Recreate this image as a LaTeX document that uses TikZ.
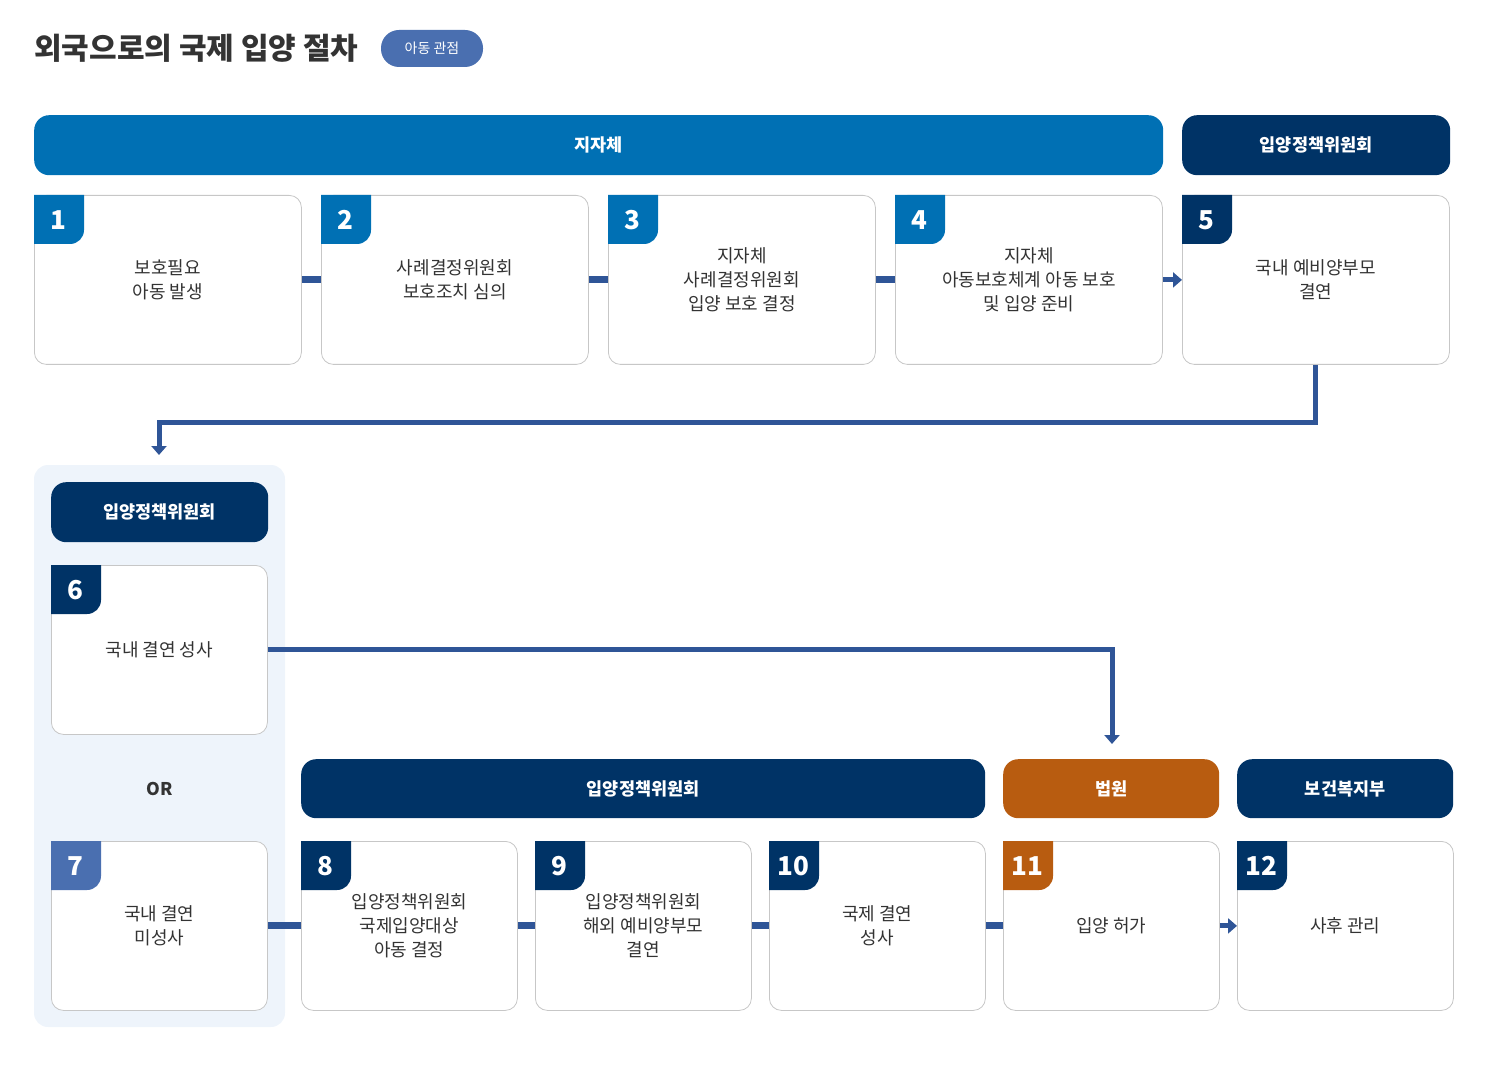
\documentclass[tikz,border=0pt]{standalone}
\usepackage{fontspec}
\setmainfont{Noto Sans CJK KR}
\usetikzlibrary{arrows.meta}
\definecolor{cblue}{HTML}{0070B4}
\definecolor{navy}{HTML}{003366}
\definecolor{mid}{HTML}{4A6FB0}
\definecolor{orng}{HTML}{B85C10}
\definecolor{conn}{HTML}{2F5597}
\definecolor{panel}{HTML}{EEF4FB}
\definecolor{txt}{HTML}{333333}
\tikzset{
 bar/.style={rounded corners=15pt,anchor=north west,text=white,font=\bfseries\fontsize{17.5}{20}\selectfont,inner sep=0},
 box/.style={draw=black!22,line width=0.8pt,fill=white,rounded corners=12pt,anchor=north west,text=txt,align=center,font=\fontsize{18}{24}\selectfont,inner sep=0},
 num/.style={text=white,font=\bfseries\fontsize{26}{28}\selectfont,inner sep=0},
 cn/.style={draw=conn,line width=7pt},
 ar/.style={draw=conn,line width=5pt,-{Triangle[length=9pt,width=15pt]}},
}
\newcommand{\tabx}[5]{% name x y color num
 \fill[#4] (#2,#3-49) -- (#2,#3) -- (#2+50,#3) -- (#2+50,#3-35) arc(0:-90:14) -- cycle;
 \node[num] (#1) at (#2+24,#3-25) {#5};}
\begin{document}
\begin{tikzpicture}[x=1pt,y=1pt]
\useasboundingbox (0,0) rectangle (1500,-1067);
\node[anchor=west,text=txt,font=\bfseries\fontsize{30}{32}\selectfont,inner sep=0] (title) at (34,-48) {외국으로의 국제 입양 절차};
\node[fill=mid,rounded corners=18pt,minimum width=102pt,minimum height=37pt,text=white,font=\fontsize{14}{16}\selectfont,inner sep=0] (pill) at (432,-48.5) {아동 관점};
% top bars
\node[bar,fill=cblue,minimum width=1129pt,minimum height=60pt] (h1) at (34,-115) {지자체};
\node[bar,fill=navy,minimum width=268pt,minimum height=60pt] (h2) at (1182,-115) {입양정책위원회};
% row1
\node[box,minimum width=267pt,minimum height=169pt] (b1) at (34,-195) {보호필요\\아동 발생};
\node[box,minimum width=267pt,minimum height=169pt] (b2) at (321,-195) {사례결정위원회\\보호조치 심의};
\node[box,minimum width=267pt,minimum height=169pt] (b3) at (608,-195) {지자체\\사례결정위원회\\입양 보호 결정};
\node[box,minimum width=267pt,minimum height=169pt] (b4) at (895,-195) {지자체\\아동보호체계 아동 보호\\및 입양 준비};
\node[box,minimum width=267pt,minimum height=169pt] (b5) at (1182,-195) {국내 예비양부모\\결연};
\tabx{n1}{34}{-195}{cblue}{1}
\tabx{n2}{321}{-195}{cblue}{2}
\tabx{n3}{608}{-195}{cblue}{3}
\tabx{n4}{895}{-195}{cblue}{4}
\tabx{n5}{1182}{-195}{navy}{5}
\draw[cn] (b1.east) -- (b2.west);
\draw[cn] (b2.east) -- (b3.west);
\draw[cn] (b3.east) -- (b4.west);
\draw[ar] (b4.east) -- (b5.west);
% panel
\fill[panel,rounded corners=14pt] (34,-465) rectangle (285,-1027);
\coordinate (c6) at (159,-455);
\draw[ar,line width=5pt] (b5.south) -- ++(0,-58) -| (c6);
\node[bar,fill=navy,minimum width=217pt,minimum height=60pt] (h3) at (51,-482) {입양정책위원회};
\node[box,minimum width=216pt,minimum height=169pt] (b6) at (51,-565) {국내 결연 성사};
\tabx{n6}{51}{-565}{navy}{6}
\node[text=txt,font=\bfseries\fontsize{17.5}{20}\selectfont] (or) at (160,-789) {OR};
\node[box,minimum width=216pt,minimum height=169pt] (b7) at (51,-841) {국내 결연\\미성사};
\tabx{n7}{51}{-841}{mid}{7}
% row2 bars
\node[bar,fill=navy,minimum width=684pt,minimum height=59pt] (h4) at (301,-759) {입양정책위원회};
\node[bar,fill=orng,minimum width=216pt,minimum height=59pt] (h5) at (1003,-759) {법원};
\node[bar,fill=navy,minimum width=216pt,minimum height=59pt] (h6) at (1237,-759) {보건복지부};
\node[box,minimum width=216pt,minimum height=169pt] (b8) at (301,-841) {입양정책위원회\\국제입양대상\\아동 결정};
\node[box,minimum width=216pt,minimum height=169pt] (b9) at (535,-841) {입양정책위원회\\해외 예비양부모\\결연};
\node[box,minimum width=216pt,minimum height=169pt] (b10) at (769,-841) {국제 결연\\성사};
\node[box,minimum width=216pt,minimum height=169pt] (b11) at (1003,-841) {입양 허가};
\node[box,minimum width=216pt,minimum height=169pt] (b12) at (1237,-841) {사후 관리};
\tabx{n8}{301}{-841}{navy}{8}
\tabx{n9}{535}{-841}{navy}{9}
\tabx{n10}{769}{-841}{navy}{10}
\tabx{n11}{1003}{-841}{orng}{11}
\tabx{n12}{1237}{-841}{navy}{12}
\coordinate (c11) at (1112,-744);
\draw[ar] (b6.east) -| (c11);
\draw[cn] (b7.east) -- (b8.west);
\draw[cn] (b8.east) -- (b9.west);
\draw[cn] (b9.east) -- (b10.west);
\draw[cn] (b10.east) -- (b11.west);
\draw[ar] (b11.east) -- (b12.west);
\end{tikzpicture}
\end{document}
